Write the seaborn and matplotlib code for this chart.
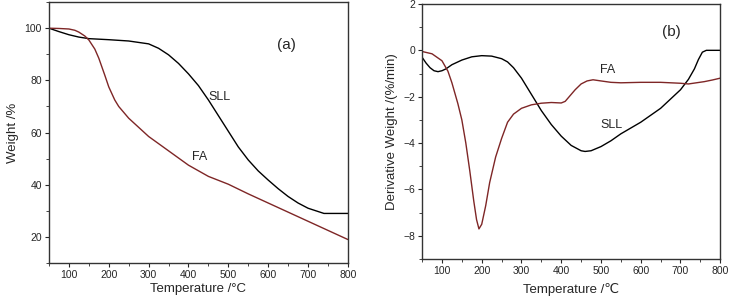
import numpy as np
import pandas as pd
import seaborn as sns
import matplotlib.pyplot as plt
from matplotlib.ticker import MultipleLocator

# (a) TGA weight curves
tga_sll_t = [50, 75, 100, 125, 150, 175, 200, 250, 300, 325, 350, 375, 400, 425, 450,
             475, 500, 525, 550, 575, 600, 625, 650, 675, 700, 720, 740, 760, 800]
tga_sll_w = [100, 98.7, 97.5, 96.6, 96.0, 95.8, 95.6, 95.1, 94.0, 92.3, 89.8, 86.5, 82.5,
             78.0, 72.5, 66.5, 60.5, 54.5, 49.5, 45.3, 41.8, 38.5, 35.5, 33.0, 31.0,
             30.0, 29.0, 29.0, 29.0]
tga_fa_t = [50, 75, 100, 115, 125, 140, 150, 165, 175, 190, 200, 215, 225, 250, 275, 300,
            350, 400, 450, 500, 550, 600, 650, 700, 750, 800]
tga_fa_w = [100, 99.9, 99.7, 99.2, 98.5, 97.0, 95.5, 92.0, 88.5, 82.0, 77.5, 72.5, 70.0,
            65.5, 62.0, 58.5, 53.0, 47.5, 43.2, 40.2, 36.5, 33.0, 29.5, 26.0, 22.5, 19.0]

# (b) DTG curves
dtg_sll_t = [50, 60, 70, 80, 90, 100, 110, 125, 150, 175, 200, 225, 250, 265, 280, 300,
             325, 350, 375, 400, 425, 450, 460, 475, 500, 525, 550, 575, 600, 625, 650,
             675, 700, 720, 735, 745, 755, 765, 780, 800]
dtg_sll_d = [-0.3, -0.55, -0.75, -0.88, -0.92, -0.88, -0.8, -0.62, -0.42, -0.28, -0.23,
             -0.25, -0.36, -0.5, -0.75, -1.2, -1.9, -2.6, -3.2, -3.7, -4.1, -4.33, -4.36,
             -4.33, -4.15, -3.9, -3.6, -3.35, -3.1, -2.8, -2.5, -2.1, -1.7, -1.25, -0.8,
             -0.4, -0.08, 0.0, 0.0, 0.0]
dtg_fa_t = [50, 75, 100, 115, 125, 140, 150, 160, 170, 180, 187, 193, 200, 210, 220, 235,
            250, 265, 280, 300, 325, 350, 375, 400, 410, 420, 435, 450, 465, 480, 500, 525,
            550, 600, 650, 700, 720, 740, 760, 780, 800]
dtg_fa_d = [-0.05, -0.15, -0.45, -0.9, -1.4, -2.3, -3.0, -4.0, -5.2, -6.5, -7.3, -7.7,
            -7.5, -6.7, -5.7, -4.6, -3.8, -3.1, -2.75, -2.5, -2.35, -2.28, -2.25, -2.27,
            -2.2, -2.0, -1.7, -1.45, -1.32, -1.27, -1.32, -1.38, -1.4, -1.38, -1.38,
            -1.42, -1.45, -1.4, -1.35, -1.28, -1.2]

sns.set_theme(style="ticks")
plt.rcParams['font.family'] = ['Liberation Sans', 'DejaVu Sans']

red = '#7e2626'
fig = plt.figure(figsize=(7.29, 3.03), dpi=100)
ax1 = fig.add_axes([0.0672, 0.132, 0.410, 0.861])
ax2 = fig.add_axes([0.579, 0.145, 0.409, 0.842])

sns.lineplot(x=tga_sll_t, y=tga_sll_w, ax=ax1, color='black', lw=1)
sns.lineplot(x=tga_fa_t, y=tga_fa_w, ax=ax1, color=red, lw=1)
sns.lineplot(x=dtg_sll_t, y=dtg_sll_d, ax=ax2, color='black', lw=1)
sns.lineplot(x=dtg_fa_t, y=dtg_fa_d, ax=ax2, color=red, lw=1)

ax1.set_xlim(50, 800)
ax1.set_ylim(10, 110)
ax1.set_xticks(np.arange(100, 801, 100))
ax1.set_yticks([20, 40, 60, 80, 100])
ax1.yaxis.set_minor_locator(MultipleLocator(10))
ax1.set_xlabel('Temperature /°C', fontsize=9.5, labelpad=2)
ax1.set_ylabel('Weight /%', fontsize=9.5, labelpad=4)
ax1.text(647, 93.4, '(a)', fontsize=11, ha='center', va='center')
ax1.text(479, 73.6, 'SLL', fontsize=9, ha='center', va='center')
ax1.text(429, 50.7, 'FA', fontsize=9, ha='center', va='center')

ax2.set_xlim(50, 800)
ax2.set_ylim(-9, 2)
ax2.set_xticks(np.arange(100, 801, 100))
ax2.set_yticks([-8, -6, -4, -2, 0, 2])
ax2.yaxis.set_minor_locator(MultipleLocator(1))
ax2.set_xlabel('Temperature /℃', fontsize=9.5, labelpad=5)
ax2.set_ylabel('Derivative Weight /(%/min)', fontsize=9.5, labelpad=4)
ax2.text(677, 0.77, '(b)', fontsize=11, ha='center', va='center')
ax2.text(516, -0.86, 'FA', fontsize=9, ha='center', va='center')
ax2.text(526, -3.2, 'SLL', fontsize=9, ha='center', va='center')

for ax in (ax1, ax2):
    ax.xaxis.set_minor_locator(MultipleLocator(50))
    ax.tick_params(which='major', length=3, width=0.8, labelsize=7.5, pad=2)
    ax.tick_params(which='minor', length=2, width=0.6)
    for s in ax.spines.values():
        s.set_visible(True)
        s.set_linewidth(1.0)
        s.set_color('#333333')

fig.savefig('out.png', dpi=100)
